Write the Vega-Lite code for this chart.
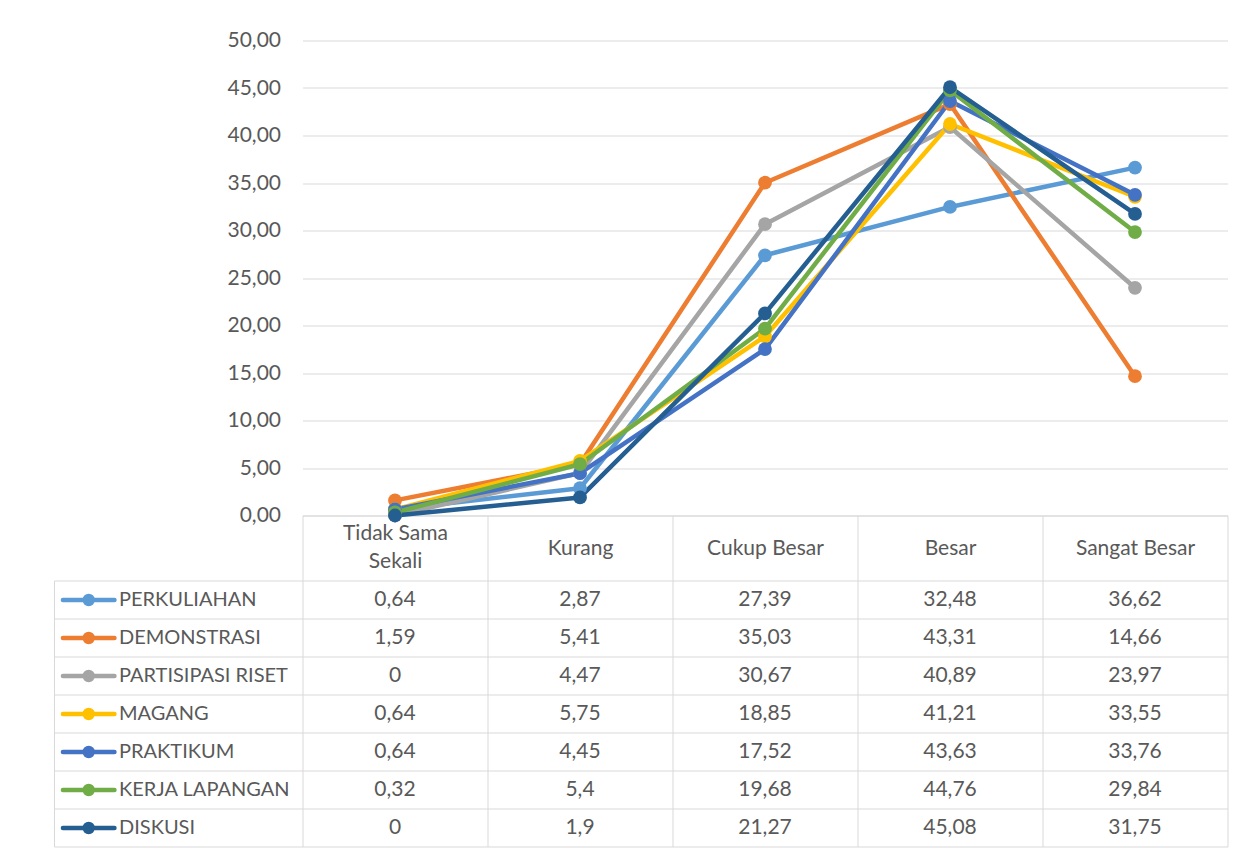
{
  "$schema": "https://vega.github.io/schema/vega-lite/v6.json",
  "padding": {"left": 53.5, "top": 29.5, "right": 10, "bottom": 5},
  "background": "white",
  "bounds": "flush",
  "spacing": 65,
  "config": {
    "locale": {"number": {"decimal": ",", "thousands": ".", "grouping": [3], "currency": ["", ""]}},
    "font": "Lato",
    "view": {"stroke": null},
    "axis": {"labelFont": "Lato", "labelColor": "#595959", "gridColor": "#D9D9D9", "domainColor": "#D9D9D9", "tickColor": "#D9D9D9", "title": null, "labelFontSize": 21}
  },
  "datasets": {
    "d": [
      {"seri": "PERKULIAHAN", "kategori": "Tidak Sama Sekali", "nilai": 0.64},
      {"seri": "PERKULIAHAN", "kategori": "Kurang", "nilai": 2.87},
      {"seri": "PERKULIAHAN", "kategori": "Cukup Besar", "nilai": 27.39},
      {"seri": "PERKULIAHAN", "kategori": "Besar", "nilai": 32.48},
      {"seri": "PERKULIAHAN", "kategori": "Sangat Besar", "nilai": 36.62},
      {"seri": "DEMONSTRASI", "kategori": "Tidak Sama Sekali", "nilai": 1.59},
      {"seri": "DEMONSTRASI", "kategori": "Kurang", "nilai": 5.41},
      {"seri": "DEMONSTRASI", "kategori": "Cukup Besar", "nilai": 35.03},
      {"seri": "DEMONSTRASI", "kategori": "Besar", "nilai": 43.31},
      {"seri": "DEMONSTRASI", "kategori": "Sangat Besar", "nilai": 14.66},
      {"seri": "PARTISIPASI RISET", "kategori": "Tidak Sama Sekali", "nilai": 0},
      {"seri": "PARTISIPASI RISET", "kategori": "Kurang", "nilai": 4.47},
      {"seri": "PARTISIPASI RISET", "kategori": "Cukup Besar", "nilai": 30.67},
      {"seri": "PARTISIPASI RISET", "kategori": "Besar", "nilai": 40.89},
      {"seri": "PARTISIPASI RISET", "kategori": "Sangat Besar", "nilai": 23.97},
      {"seri": "MAGANG", "kategori": "Tidak Sama Sekali", "nilai": 0.64},
      {"seri": "MAGANG", "kategori": "Kurang", "nilai": 5.75},
      {"seri": "MAGANG", "kategori": "Cukup Besar", "nilai": 18.85},
      {"seri": "MAGANG", "kategori": "Besar", "nilai": 41.21},
      {"seri": "MAGANG", "kategori": "Sangat Besar", "nilai": 33.55},
      {"seri": "PRAKTIKUM", "kategori": "Tidak Sama Sekali", "nilai": 0.64},
      {"seri": "PRAKTIKUM", "kategori": "Kurang", "nilai": 4.45},
      {"seri": "PRAKTIKUM", "kategori": "Cukup Besar", "nilai": 17.52},
      {"seri": "PRAKTIKUM", "kategori": "Besar", "nilai": 43.63},
      {"seri": "PRAKTIKUM", "kategori": "Sangat Besar", "nilai": 33.76},
      {"seri": "KERJA LAPANGAN", "kategori": "Tidak Sama Sekali", "nilai": 0.32},
      {"seri": "KERJA LAPANGAN", "kategori": "Kurang", "nilai": 5.4},
      {"seri": "KERJA LAPANGAN", "kategori": "Cukup Besar", "nilai": 19.68},
      {"seri": "KERJA LAPANGAN", "kategori": "Besar", "nilai": 44.76},
      {"seri": "KERJA LAPANGAN", "kategori": "Sangat Besar", "nilai": 29.84},
      {"seri": "DISKUSI", "kategori": "Tidak Sama Sekali", "nilai": 0},
      {"seri": "DISKUSI", "kategori": "Kurang", "nilai": 1.9},
      {"seri": "DISKUSI", "kategori": "Cukup Besar", "nilai": 21.27},
      {"seri": "DISKUSI", "kategori": "Besar", "nilai": 45.08},
      {"seri": "DISKUSI", "kategori": "Sangat Besar", "nilai": 31.75}
    ]
  },
  "vconcat": [
    {
      "width": 925,
      "height": 475,
      "data": {"name": "d"},
      "encoding": {
        "x": {
          "field": "kategori", "type": "nominal",
          "sort": ["Tidak Sama Sekali", "Kurang", "Cukup Besar", "Besar", "Sangat Besar"],
          "scale": {"type": "band", "paddingInner": 0, "paddingOuter": 0},
          "axis": {
            "orient": "bottom", "domain": true, "ticks": true, "tickBand": "extent", "tickSize": 65,
            "labelPadding": {"condition": {"test": "datum.value == 'Tidak Sama Sekali'", "value": -47}, "value": -32.5},
            "labelBaseline": "middle", "labelAngle": 0,
            "labelExpr": "datum.value == 'Tidak Sama Sekali' ? ['Tidak Sama', 'Sekali'] : datum.label",
            "labelLineHeight": 28, "labelOverlap": false, "labelBound": false, "labelFlush": false,
            "labelLimit": 0, "grid": false
          }
        },
        "y": {
          "field": "nilai", "type": "quantitative",
          "scale": {"domain": [0, 50], "nice": false, "zero": true},
          "axis": {
            "values": [0, 5, 10, 15, 20, 25, 30, 35, 40, 45, 50], "format": ".2f",
            "grid": true, "domain": false, "ticks": false, "labelPadding": 22, "labelOverlap": false
          }
        },
        "color": {
          "field": "seri", "type": "nominal",
          "sort": ["PERKULIAHAN", "DEMONSTRASI", "PARTISIPASI RISET", "MAGANG", "PRAKTIKUM", "KERJA LAPANGAN", "DISKUSI"],
          "scale": {
            "domain": ["PERKULIAHAN", "DEMONSTRASI", "PARTISIPASI RISET", "MAGANG", "PRAKTIKUM", "KERJA LAPANGAN", "DISKUSI"],
            "range": ["#5B9BD5", "#ED7D31", "#A5A5A5", "#FFC000", "#4472C4", "#70AD47", "#255E91"]
          },
          "legend": {
            "orient": "none", "legendX": -241.8, "legendY": 549.5, "title": null, "padding": 0,
            "symbolType": "M-3.68,0L3.68,0M0.571,0A0.571,0.571,0,1,1,-0.571,0A0.571,0.571,0,1,1,0.571,0Z",
            "symbolSize": 196, "symbolStrokeWidth": 4.5, "symbolOffset": 18,
            "labelFont": "Lato", "labelFontSize": 20, "labelColor": "#595959", "labelOffset": 20.3, "labelLimit": 0,
            "rowPadding": 12,
            "encode": {
              "symbols": {
                "update": {
                  "fill": {"scale": "color", "field": "value"},
                  "stroke": {"scale": "color", "field": "value"},
                  "strokeCap": {"value": "round"},
                  "opacity": {"value": 1}
                }
              }
            }
          }
        }
      },
      "layer": [
        {"mark": {"type": "line", "strokeWidth": 4.5, "strokeJoin": "round", "strokeCap": "round"}},
        {"mark": {"type": "point", "filled": true, "size": 190, "opacity": 1}}
      ]
    },
    {
      "width": 925,
      "height": 266,
      "data": {"name": "d"},
      "encoding": {
        "x": {
          "field": "kategori", "type": "nominal",
          "sort": ["Tidak Sama Sekali", "Kurang", "Cukup Besar", "Besar", "Sangat Besar"],
          "scale": {"type": "band", "paddingInner": 0, "paddingOuter": 0},
          "axis": {"orient": "top", "grid": true, "tickBand": "extent", "ticks": false, "labels": false, "domain": false}
        }
      },
      "layer": [
        {
          "mark": {"type": "text", "fontSize": 21, "color": "#595959", "font": "Lato"},
          "encoding": {
            "y": {
              "field": "seri", "type": "nominal",
              "sort": ["PERKULIAHAN", "DEMONSTRASI", "PARTISIPASI RISET", "MAGANG", "PRAKTIKUM", "KERJA LAPANGAN", "DISKUSI"],
              "scale": {"type": "band", "paddingInner": 0, "paddingOuter": 0},
              "axis": {"orient": "left", "grid": true, "tickBand": "extent", "ticks": true, "tickSize": 248.5, "labels": false, "domain": false}
            },
            "text": {"field": "nilai", "type": "quantitative", "format": ".4~g"}
          }
        },
        {
          "mark": {"type": "text", "opacity": 0},
          "encoding": {
            "y": {
              "field": "seri", "type": "nominal",
              "sort": ["PERKULIAHAN", "DEMONSTRASI", "PARTISIPASI RISET", "MAGANG", "PRAKTIKUM", "KERJA LAPANGAN", "DISKUSI"],
              "axis": {"orient": "left", "offset": 248.5, "grid": false, "ticks": false, "labels": false, "domain": true}
            }
          }
        }
      ],
      "resolve": {"axis": {"y": "independent"}}
    }
  ]
}
